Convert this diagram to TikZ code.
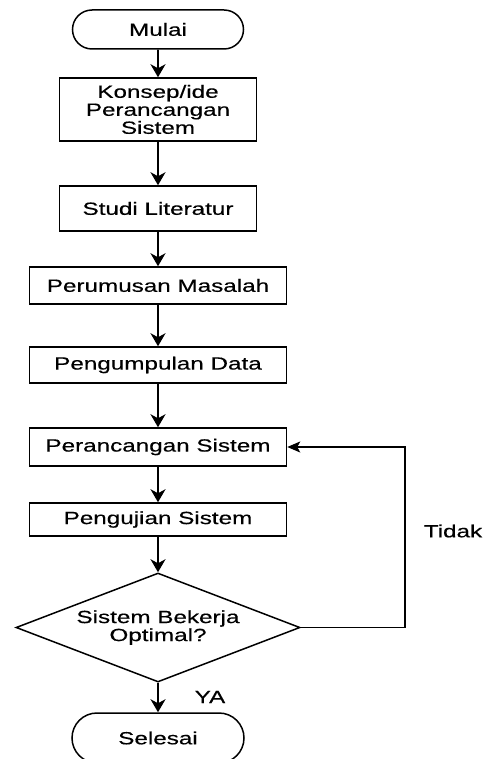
\documentclass[tikz,border=0pt]{standalone}
\usepackage{fontspec}
\setmainfont{Liberation Sans}[FakeStretch=1.37,FakeBold=0.35]
\usetikzlibrary{shapes.geometric,shapes.misc,arrows.meta}
\begin{document}
\begin{tikzpicture}[x=1pt,y=1pt,
  every node/.style={font=\fontsize{17.7}{18}\selectfont},
  box/.style={draw, line width=1.5pt, minimum width=257pt, minimum height=37pt,
    inner sep=0pt, align=center},
  narrowbox/.style={box, minimum width=197pt},
  term/.style={draw, line width=1.5pt, rounded rectangle, minimum width=171pt,
    minimum height=39pt, inner sep=0pt},
  decision/.style={draw, line width=1.5pt, diamond, aspect=2.6, minimum width=284pt,
    minimum height=109pt, inner sep=0pt, align=center},
  flow/.style={draw, line width=1.8pt, -{Stealth[length=13pt,width=15pt,inset=4pt]}},
  loopback/.style={draw, line width=1.2pt, -{Stealth[length=13pt,width=11pt,inset=3pt]}},
  lbl/.style={inner sep=0pt}]
\useasboundingbox (0,0) rectangle (484,-759);

\node[term] (mulai) at (158,-29.5) {Mulai};
\node[narrowbox, minimum height=63pt] (konsep) at (158,-109.5) {Konsep/ide\\Perancangan\\Sistem};
\node[narrowbox, minimum height=45pt] (studi) at (158,-208.5) {Studi Literatur};
\node[box] (rumus) at (158,-285.5) {Perumusan Masalah};
\node[box, minimum height=36pt] (kumpul) at (158,-365) {Pengumpulan Data};
\node[box, minimum height=38pt] (ranc) at (158,-447) {Perancangan Sistem};
\node[box, minimum height=33pt] (uji) at (158,-519.5) {Pengujian Sistem};
\node[decision] (cek) at (158,-627.5) {Sistem Bekerja\\Optimal?};
\node[term, minimum height=50pt, minimum width=172pt] (selesai) at (158,-738) {Selesai};
\coordinate (belok) at (405,-627.5);

\node[lbl] (tidak) at (453,-531) {Tidak};
\node[lbl] (ya) at (210,-697) {YA};

\draw[flow] (mulai) -- (konsep);
\draw[flow] (konsep) -- (studi);
\draw[flow] (studi) -- (rumus);
\draw[flow] (rumus) -- (kumpul);
\draw[flow] (kumpul) -- (ranc);
\draw[flow] (ranc) -- (uji);
\draw[flow] (uji) -- (cek);
\draw[flow] (cek) -- (selesai);
\draw[loopback] (cek.east) -- (belok) |- (ranc.east);
\end{tikzpicture}
\end{document}
